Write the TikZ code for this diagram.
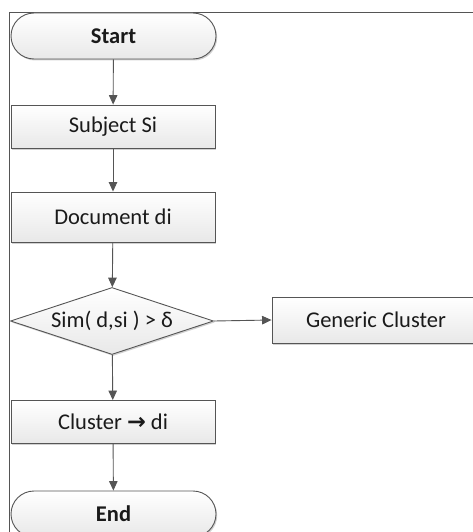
\documentclass[tikz,border=0pt]{standalone}
\usepackage{fontspec}
\setmainfont{Carlito}
\newfontfamily\symfont{DejaVu Sans}
\usetikzlibrary{shapes.misc,shapes.geometric,arrows.meta,shadows}
\definecolor{edge}{HTML}{555555}
\definecolor{ink}{HTML}{1A1A1A}
\tikzset{
  txt/.style={text=ink, font=\fontsize{22.5}{25}\selectfont},
  base/.style={draw=edge, line width=0.9pt, top color=white, bottom color=black!9,
    txt, inner sep=0pt,
    drop shadow={shadow xshift=1.2pt, shadow yshift=-1.5pt, opacity=0.18, fill=black}},
  term/.style={base, rounded rectangle, minimum width=205pt, minimum height=46pt,
    font=\fontsize{22.5}{25}\selectfont\bfseries},
  procbox/.style={base, rectangle, minimum width=204pt},
  decide/.style={base, diamond, minimum width=203pt, minimum height=67pt},
  flow/.style={draw=edge, line width=0.9pt, -{Triangle[length=9.5pt,width=8.5pt]}}
}
\begin{document}
\begin{tikzpicture}[x=1pt,y=-1pt]
  \useasboundingbox (0,0) rectangle (473,532);
  \clip (0,0) rectangle (473,532);
  \fill[white] (0,0) rectangle (473,532);
  % outer frame
  \coordinate (frameTL) at (9.5,12);
  \coordinate (frameTR) at (480,12);
  \coordinate (frameBL) at (9.5,540);
  \draw[edge, line width=0.9pt] (frameTR) -- (frameTL) -- (frameBL);
  % flow steps
  \node[term] (start) at (113.5,36) {Start};
  \node[procbox, minimum height=43pt] (subj) at (113,126.5) {Subject Si};
  \node[procbox, minimum height=50pt] (doc) at (113,217) {Document di};
  \node[decide, label={[txt]center:Sim( d,si ) > δ}] (sim) at (112,321) {};
  \node[procbox, minimum width=208pt, minimum height=46pt] (gen) at (376,320) {Generic Cluster};
  \node[procbox, minimum height=43pt] (clus) at (113,422) {Cluster {\symfont\bfseries →} di};
  \node[term] (end) at (113.5,514) {End};
  % connectors
  \draw[flow] (start) -- (subj);
  \draw[flow] (subj) -- (doc);
  \draw[flow] (doc) -- (sim);
  \draw[flow] (sim.east) -- (gen.west);
  \draw[flow] (sim) -- (clus);
  \draw[flow] (clus) -- (end);
\end{tikzpicture}
\end{document}
